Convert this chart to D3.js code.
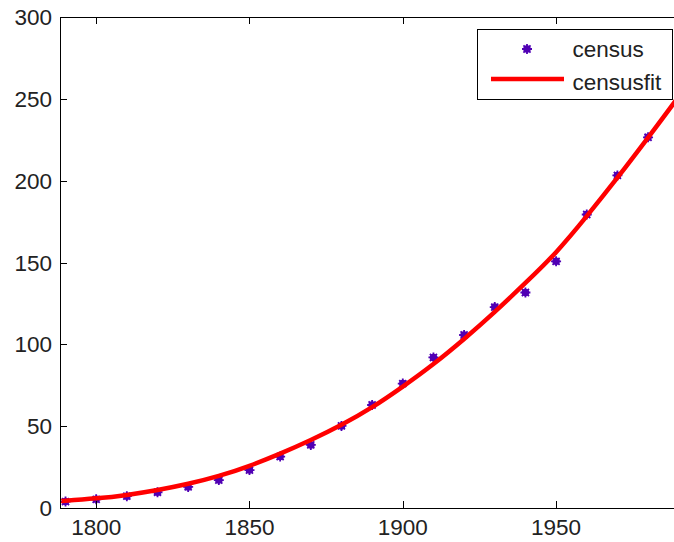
<!DOCTYPE html>
<html>
<head>
<meta charset="utf-8">
<script src="https://cdn.jsdelivr.net/npm/d3@7"></script>
<style>
  html, body { margin: 0; padding: 0; background: #fff; }
  svg { display: block; }
  text { font-family: "Liberation Sans", Arial, Helvetica, sans-serif; fill: #222; }
</style>
</head>
<body>
<svg id="chart" width="674" height="542"></svg>
<script>
// ---- data ----
const censusYears = [1790,1800,1810,1820,1830,1840,1850,1860,1870,1880,1890,1900,1910,1920,1930,1940,1950,1960,1970,1980,1990];
const censusPop   = [3.929,5.308,7.240,9.638,12.866,17.069,23.192,31.443,38.558,50.156,62.948,75.995,91.972,105.711,122.775,131.669,150.697,179.323,203.212,226.505,248.710];
// fitted curve at each decade
const fitYears = [1788,1790,1800,1810,1820,1830,1840,1850,1860,1870,1880,1890,1900,1910,1920,1930,1940,1950,1960,1970,1980,1990,1995];
const fitPop   = [4.3,4.5,5.9,8.0,11.0,14.8,19.6,25.8,33.2,41.5,50.8,61.6,74.2,88.0,103.3,119.8,137.5,156.3,178.3,201.8,226.3,251.5,265];
const xTicks = [1800,1850,1900,1950];
const yTicks = [0,50,100,150,200,250,300];
const seriesNames = ["census","censusfit"];

// ---- layout ----
const svg = d3.select("#chart");
const mLeft = 60, mTop = 17, mBottom = 508;
const pxPerYear = 3.066;
const xMin = 1788.2, xMax = 1992;
const mRight = mLeft + (xMax - xMin) * pxPerYear;

const x = d3.scaleLinear().domain([xMin, xMax]).range([mLeft, mRight]);
const y = d3.scaleLinear().domain([0, 300]).range([mBottom, mTop]);

const markerColor = "#5000b4";
const lineColor = "#ff0000";

svg.append("rect").attr("width", 674).attr("height", 542).attr("fill", "#fff");

svg.append("defs").append("clipPath").attr("id", "plotclip")
  .append("rect").attr("x", mLeft).attr("y", mTop).attr("width", mRight - mLeft).attr("height", mBottom - mTop);

const plot = svg.append("g").attr("clip-path", "url(#plotclip)");

// asterisk marker
function asterisk(g, cx, cy, r) {
  g.append("circle").attr("cx", cx).attr("cy", cy).attr("r", r * 0.75).attr("fill", markerColor);
  const d = [];
  for (let k = 0; k < 4; k++) {
    const a = k * Math.PI / 4;
    const dx = Math.cos(a) * r, dy = Math.sin(a) * r;
    d.push(`M${cx - dx},${cy - dy}L${cx + dx},${cy + dy}`);
  }
  g.append("path").attr("d", d.join("")).attr("stroke", markerColor).attr("stroke-width", 1.8).attr("fill", "none");
}

censusYears.forEach((yr, i) => asterisk(plot, x(yr), y(censusPop[i]), 5));

const line = d3.line().x((d, i) => x(fitYears[i])).y((d, i) => y(fitPop[i])).curve(d3.curveNatural);
plot.append("path").datum(fitPop).attr("d", line)
  .attr("fill", "none").attr("stroke", lineColor).attr("stroke-width", 4.5).attr("stroke-linejoin", "round");

// axes box
const axisG = svg.append("g").attr("stroke", "#000").attr("stroke-width", 1).attr("fill", "none").attr("shape-rendering", "crispEdges");
axisG.append("path").attr("d", `M${mLeft + 0.5},${mTop}V${mBottom + 0.5}H${mRight}M${mLeft},${mTop + 0.5}H${mRight}M${mRight - 0.5},${mTop}V${mBottom}`);

const tickLen = 7;
xTicks.forEach(t => {
  const px = Math.round(x(t)) + 0.5;
  axisG.append("path").attr("d", `M${px},${mBottom}v${-tickLen}M${px},${mTop}v${tickLen}`);
  svg.append("text").attr("x", x(t)).attr("y", 535).attr("text-anchor", "middle")
    .attr("font-size", 22.5).text(t);
});
yTicks.forEach(t => {
  const py = Math.round(y(t)) + 0.5;
  axisG.append("path").attr("d", `M${mLeft},${py}h${tickLen}M${mRight},${py}h${-tickLen}`);
  svg.append("text").attr("x", 52).attr("y", y(t) + 8).attr("text-anchor", "end")
    .attr("font-size", 22.5).text(t);
});

// legend
const lg = svg.append("g");
lg.append("rect").attr("x", 477.5).attr("y", 29.5).attr("width", 195).attr("height", 70)
  .attr("fill", "#fff").attr("stroke", "#000").attr("stroke-width", 1).attr("shape-rendering", "crispEdges");
asterisk(lg, 527, 49, 5);
lg.append("line").attr("x1", 491).attr("x2", 564).attr("y1", 79).attr("y2", 79)
  .attr("stroke", lineColor).attr("stroke-width", 4.5);
lg.append("text").attr("x", 572.5).attr("y", 56.5).attr("font-size", 22.5).text(seriesNames[0]);
lg.append("text").attr("x", 572.5).attr("y", 89.5).attr("font-size", 22.5).text(seriesNames[1]);
</script>
</body>
</html>
